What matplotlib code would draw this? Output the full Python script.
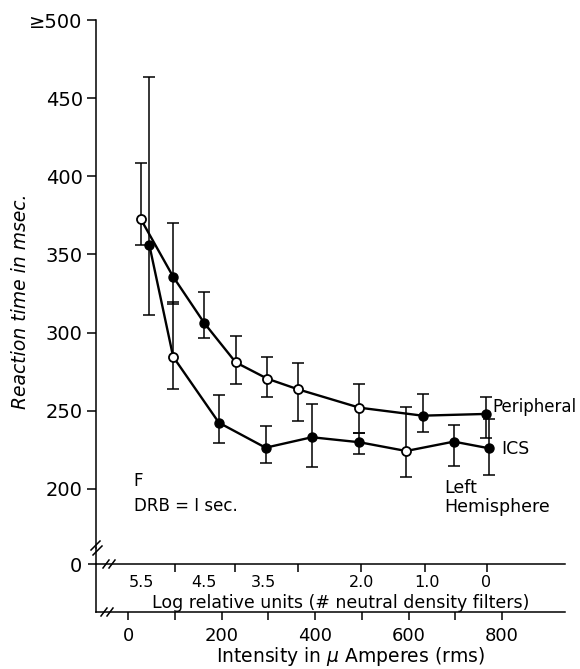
import numpy as np
import matplotlib.pyplot as plt
from matplotlib.lines import Line2D

# ---------------------------------------------------------------
# DATA
# ---------------------------------------------------------------
PER_X = [27, 96, 163, 230, 298, 363, 495, 630, 765]
PER_MS = [372.5, 335.8, 306.0, 281.0, 270.5, 263.8, 252.0, 246.9, 248.0]
PER_LO = [356.1, 318.3, 296.4, 267.0, 258.6, 243.7, 235.6, 236.5, 232.6]
PER_HI = [408.3, 370.0, 326.2, 298.1, 284.6, 280.8, 267.0, 260.8, 259.0]
PER_OPEN = [True, False, False, True, True, True, True, False, False]

ICS_X = [45, 96, 194, 294, 393, 495, 595, 697, 773]
ICS_MS = [356.1, 284.6, 242.4, 226.4, 233.1, 229.9, 224.3, 230.3, 226.0]
ICS_LO = [311.3, 264.0, 229.2, 216.8, 213.9, 222.4, 207.9, 214.7, 209.0]
ICS_HI = [463.7, 319.8, 260.1, 240.5, 254.6, 236.0, 252.6, 241.1, 244.6]
ICS_OPEN = [False, True, False, False, False, False, True, False, False]

Y_TICKS = [200, 250, 300, 350, 400, 450, 500]
Y_LABELS = ["200", "250", "300", "350", "400", "450", "≥500"]

LOG_TICKS = [100, 228, 363, 498, 635, 768]
LOG_LABEL_POS = [29, 161, 289, 500, 639, 767]
LOG_LABELS = ["5.5", "4.5", "3.5", "2.0", "1.0", "0"]

INT_TICKS = [0, 200, 400, 600, 800]
INT_MINOR = [100, 300, 500, 700]

# ---------------------------------------------------------------
# LAYOUT HELPERS (pixel -> figure fraction)
# ---------------------------------------------------------------
W, H = 580, 669
XLIM = (-69.2, 935.1)


def fx(p):
    return p / W


def fy(p):
    return 1 - p / H


def box(left, top, right, bottom):
    return [fx(left), fy(bottom), fx(right) - fx(left), fy(top) - fy(bottom)]


def slash(fig, x0, y0, x1, y1):
    fig.add_artist(Line2D([fx(x0), fx(x1)], [fy(y0), fy(y1)],
                          transform=fig.transFigure, color='k', lw=1.1))


fig = plt.figure(figsize=(W / 100, H / 100), dpi=100)

# ---------------------------------------------------------------
# MAIN PANEL
# ---------------------------------------------------------------
ax = fig.add_axes(box(96, 20, 565, 548))
ax.set_xlim(*XLIM)
ax.set_ylim(162.25, 500)
for s in ["top", "right", "bottom"]:
    ax.spines[s].set_visible(False)
ax.spines["left"].set_linewidth(1.1)
ax.set_xticks([])
ax.set_yticks(Y_TICKS)
ax.set_yticklabels(Y_LABELS, fontsize=14)
ax.tick_params(axis='y', length=6.5, width=1.1, pad=3)
fig.text(fx(20.5), fy(301.7), "Reaction time in msec.", fontsize=13.5,
         style='italic', rotation=90, ha='center', va='center')

series = [
    (PER_X, PER_MS, PER_LO, PER_HI, PER_OPEN),
    (ICS_X, ICS_MS, ICS_LO, ICS_HI, ICS_OPEN),
]
for xs, ms, lo, hi, op in series:
    xs = np.array(xs)
    ms = np.array(ms)
    op = np.array(op)
    yerr = [ms - np.array(lo), np.array(hi) - ms]
    ax.errorbar(xs, ms, yerr=yerr, fmt='none', ecolor='k', elinewidth=1.1,
                capsize=4.3, capthick=1.1, zorder=2)
    ax.plot(xs, ms, '-', color='k', lw=1.7, zorder=3)
    ax.plot(xs[~op], ms[~op], 'o', color='k', ms=6.5, zorder=4)
    ax.plot(xs[op], ms[op], 'o', mfc='white', mec='k', mew=1.3, ms=6.5, zorder=4)

fig.text(fx(492.7), fy(407.3), "Peripheral", fontsize=12, va='center')
fig.text(fx(501.7), fy(449), "ICS", fontsize=12.5, va='center')
fig.text(fx(444.3), fy(488.3), "Left", fontsize=12.5, va='center')
fig.text(fx(444.3), fy(507.3), "Hemisphere", fontsize=12.5, va='center')
fig.text(fx(133), fy(481), "F", fontsize=12, va='center')
fig.text(fx(134), fy(506), "DRB = I sec.", fontsize=12, va='center')

# ---------------------------------------------------------------
# LOG RELATIVE UNITS AXIS (the "0" level)
# ---------------------------------------------------------------
ax_log = fig.add_axes(box(96, 548, 565, 564.3))
ax_log.patch.set_alpha(0)
ax_log.set_xlim(*XLIM)
ax_log.set_ylim(0, 1)
for s in ["top", "right"]:
    ax_log.spines[s].set_visible(False)
for s in ["left", "bottom"]:
    ax_log.spines[s].set_linewidth(1.1)
ax_log.set_yticks([0])
ax_log.set_yticklabels(["0"], fontsize=14)
ax_log.tick_params(axis='y', length=6, width=1.1, pad=4)
ax_log.set_xticks(LOG_LABEL_POS)
ax_log.set_xticklabels(LOG_LABELS, fontsize=11.5)
ax_log.set_xticks(LOG_TICKS, minor=True)
ax_log.tick_params(axis='x', which='major', length=0, pad=8)
ax_log.tick_params(axis='x', which='minor', length=6, width=1.1, direction='out')
fig.text(fx(341), fy(603), "Log relative units (# neutral density filters)",
         fontsize=12.5, ha='center', va='center')

# ---------------------------------------------------------------
# INTENSITY AXIS
# ---------------------------------------------------------------
ax_int = fig.add_axes(box(96, 564.3, 565, 611.7))
ax_int.patch.set_alpha(0)
ax_int.set_xlim(*XLIM)
ax_int.set_ylim(0, 1)
for s in ["top", "right"]:
    ax_int.spines[s].set_visible(False)
for s in ["left", "bottom"]:
    ax_int.spines[s].set_linewidth(1.1)
ax_int.set_yticks([])
ax_int.set_xticks(INT_TICKS)
ax_int.set_xticklabels([str(v) for v in INT_TICKS], fontsize=13)
ax_int.set_xticks(INT_MINOR, minor=True)
ax_int.tick_params(axis='x', which='both', length=6, width=1.1, pad=5)
fig.text(fx(350), fy(656.5), "Intensity in $\\mu$ Amperes (rms)",
         fontsize=13.5, ha='center', va='center')

# ---------------------------------------------------------------
# AXIS BREAK MARKS
# ---------------------------------------------------------------
slash(fig, 91, 550, 100, 541)
slash(fig, 93, 555, 102, 546)
slash(fig, 103, 568, 109, 560)
slash(fig, 109, 568, 115, 560)
slash(fig, 101, 616, 107, 608)
slash(fig, 107, 616, 113, 608)

fig.savefig("out.png", dpi=100)
